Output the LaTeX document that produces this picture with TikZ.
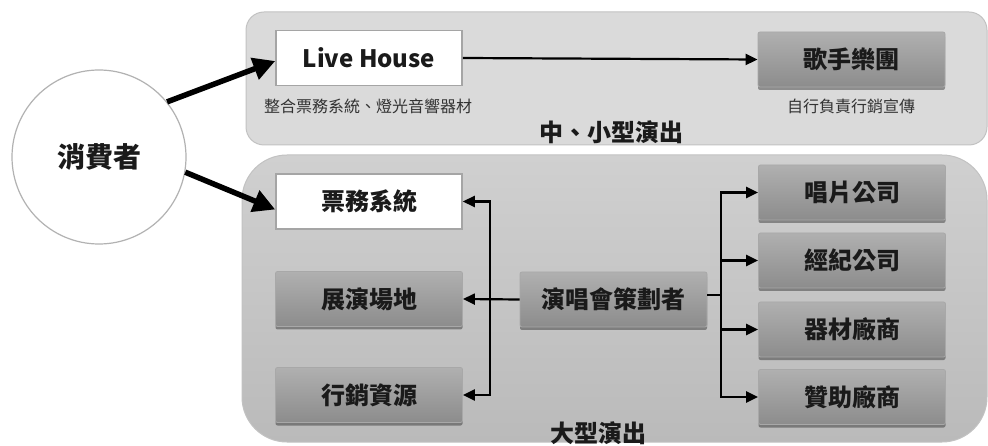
\documentclass[tikz,border=0pt]{standalone}
\usepackage{fontspec}
\setmainfont{Noto Sans CJK TC}
\usetikzlibrary{arrows.meta,shadows}
\definecolor{txt}{HTML}{1A1A1A}
\definecolor{subtxt}{HTML}{333333}
\definecolor{boxtop}{HTML}{B0B0B0}
\definecolor{boxbot}{HTML}{8C8C8C}
\definecolor{boxedge}{HTML}{A8A8A8}
\definecolor{wedge}{HTML}{A5A5A5}
\definecolor{ptop}{HTML}{DADADA}
\definecolor{pedge}{HTML}{C2C2C2}
\definecolor{p2top}{HTML}{D0D0D0}
\definecolor{p2bot}{HTML}{BABABA}
\begin{document}
\begin{tikzpicture}[x=1pt,y=-1pt,
  graybox/.style={draw=boxedge, line width=0.8pt, top color=boxtop, bottom color=boxbot,
    rounded corners=2pt,
    minimum width=187pt, minimum height=55pt, inner sep=0pt,
    font=\fontsize{24}{28}\selectfont\bfseries, text=txt,
    drop shadow={shadow xshift=0pt, shadow yshift=-3pt, opacity=0.35, fill=black}},
  whitebox/.style={draw=wedge, line width=1.5pt, fill=white,
    minimum width=186pt, minimum height=55pt, inner sep=0pt,
    font=\fontsize{24}{28}\selectfont\bfseries, text=txt},
  subtext/.style={font=\fontsize{16}{19}\selectfont, text=subtxt, inner sep=0pt},
  paneltitle/.style={font=\fontsize{24}{28}\selectfont\bfseries, text=txt, inner sep=0pt},
  thinarrow/.style={line width=2.2pt, draw=black, -{Triangle[length=12pt,width=11pt]}},
  thickarrow/.style={line width=5.5pt, draw=black, -{Triangle[length=22pt,width=22pt]}},
  thinline/.style={line width=2.2pt, draw=black}
]
\useasboundingbox (0,0) rectangle (988,446);

% panels
\node[draw=pedge, line width=1pt, fill=ptop, rounded corners=18pt,
  minimum width=741pt, minimum height=133pt, inner sep=0pt] (top) at (616.5,78.5) {};
\node[draw=pedge, line width=1pt, top color=p2top, bottom color=p2bot, rounded corners=45pt,
  minimum width=745pt, minimum height=287pt, inner sep=0pt] (bot) at (614.5,298.5) {};

% consumer
\node[circle, draw=black!30, line width=1.2pt, fill=white, minimum size=174pt, inner sep=0pt,
  font=\fontsize{28}{32}\selectfont\bfseries, text=txt] (c) at (99,157) {消費者};

% top panel
\node[whitebox] (lh) at (369,58) {Live House};
\node[graybox] (band) at (851.5,59.5) {歌手樂團};
\node[subtext] (lhs) at (368,106) {整合票務系統、燈光音響器材};
\node[subtext] (bands) at (851,106) {自行負責行銷宣傳};
\node[paneltitle] (t1) at (611,132) {中、小型演出};

% bottom panel
\node[whitebox] (tk) at (369,201.5) {票務系統};
\node[graybox] (venue) at (369,299) {展演場地};
\node[graybox] (mkt) at (369,395) {行銷資源};
\node[graybox] (plan) at (613.5,299.5) {演唱會策劃者};
\node[graybox] (rec) at (852,192.5) {唱片公司};
\node[graybox] (agt) at (852,260.5) {經紀公司};
\node[graybox] (eqp) at (852,329.5) {器材廠商};
\node[graybox] (spn) at (852,397) {贊助廠商};
\node[paneltitle] (t2) at (598,433) {大型演出};

% thick arrows
\draw[thickarrow] (c.39) -- ([yshift=-3pt]lh.west);
\draw[thickarrow] (c.-10) -- ([yshift=-8pt]tk.west);

% thin arrows
\draw[thinarrow] (lh.east) -- (band.west);
\draw[thinarrow] (plan.west) -- (venue.east);
\coordinate (lv) at (490,299);
\draw[thinarrow] (lv) |- (tk.east);
\draw[thinarrow] (lv) |- (mkt.east);
\coordinate (rv) at (721,295);
\draw[thinline] (plan.east |- rv) -- (rv);
\draw[thinarrow] (rv) |- (rec.west);
\draw[thinarrow] (rv) |- (agt.west);
\draw[thinarrow] (rv) |- (eqp.west);
\draw[thinarrow] (rv) |- (spn.west);
\end{tikzpicture}
\end{document}
